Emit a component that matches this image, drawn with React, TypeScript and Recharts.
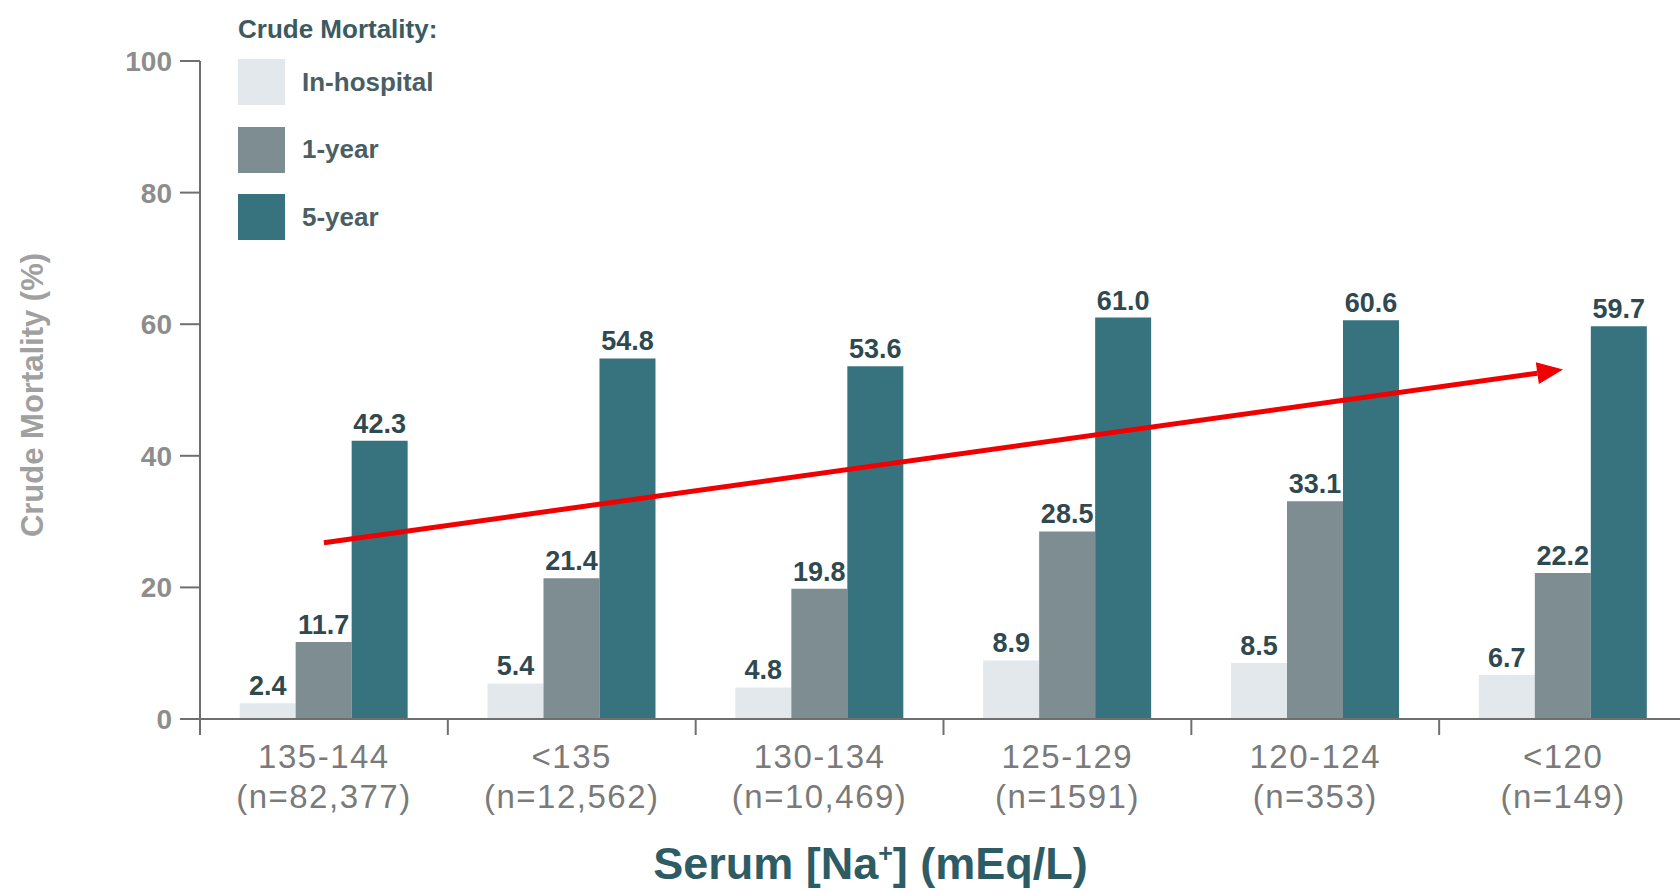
import { BarChart, Bar, XAxis, YAxis, Legend, LabelList, ReferenceLine } from "recharts";

const FONT = "'Liberation Sans', Arial, sans-serif";

// Serum sodium bands and the cohort size in each
const sodiumRanges = ["135-144", "<135", "130-134", "125-129", "120-124", "<120"];
const sampleSizes = ["(n=82,377)", "(n=12,562)", "(n=10,469)", "(n=1591)", "(n=353)", "(n=149)"];

// Crude mortality (%) per band
const inHospital = [2.4, 5.4, 4.8, 8.9, 8.5, 6.7];
const oneYear = [11.7, 21.4, 19.8, 28.5, 33.1, 22.2];
const fiveYear = [42.3, 54.8, 53.6, 61.0, 60.6, 59.7];

const seriesNames = ["In-hospital", "1-year", "5-year"];
const yTicks = [0, 20, 40, 60, 80, 100];

// Trend arrow drawn over the bars, from the first band to the last
const trendArrow = [
  { x: "135-144", y: 26.8 },
  { x: "<120", y: 53.1 },
];

const data = sodiumRanges.map((range, i) => ({
  range,
  inHospital: inHospital[i],
  oneYear: oneYear[i],
  fiveYear: fiveYear[i],
}));

const COLORS = {
  inHospital: "#e3e8ec",
  oneYear: "#7d8d92",
  fiveYear: "#37737f",
};

const barLabelStyle = { fill: "#2f4950", fontSize: 27, fontWeight: 700, fontFamily: FONT };
const formatPct = (v: any) => Number(v).toFixed(1);

// Category tick: two-line label plus a small divider at the band's left edge
const RangeTick = (props: any) => {
  const { x, y, payload, index, width, visibleTicksCount } = props;
  const half = payload.offset ? payload.offset : width / visibleTicksCount / 2;
  return (
    <g>
      <line x1={x - half} y1={y} x2={x - half} y2={y + 16} stroke="#6f6f6f" strokeWidth={2} />
      <text x={x} y={y + 49} textAnchor="middle" fill="#7a7a7a" fontSize={33} letterSpacing={1.5} fontFamily={FONT}>
        {payload.value}
      </text>
      <text x={x} y={y + 89} textAnchor="middle" fill="#7a7a7a" fontSize={33} letterSpacing={1.5} fontFamily={FONT}>
        {sampleSizes[index]}
      </text>
    </g>
  );
};

const YTitle = (props: any) => {
  const { viewBox } = props;
  const cx = viewBox.x + 32;
  const cy = viewBox.y + viewBox.height / 2 + 5;
  return (
    <text
      x={cx}
      y={cy}
      transform={`rotate(-90 ${cx} ${cy})`}
      textAnchor="middle"
      dominantBaseline="central"
      fill="#a0a0a0"
      fontSize={31}
      fontWeight={700}
      fontFamily={FONT}
    >
      Crude Mortality (%)
    </text>
  );
};

const XTitle = (props: any) => {
  const { viewBox } = props;
  const cx = viewBox.x + viewBox.width / 2 - 73;
  const by = viewBox.y + 160;
  return (
    <text x={cx} y={by} textAnchor="middle" fill="#2e5c65" fontSize={45} fontWeight={700} fontFamily={FONT}>
      Serum [Na
      <tspan dy={-17} fontSize={25}>
        +
      </tspan>
      <tspan dy={17}>] (mEq/L)</tspan>
    </text>
  );
};

const TrendArrow = (props: any) => {
  const { x1, y1, x2, y2 } = props;
  const angle = Math.atan2(y2 - y1, x2 - x1);
  const head = 26;
  const half = 11;
  const bx = x2 - head * Math.cos(angle);
  const by = y2 - head * Math.sin(angle);
  const px = -Math.sin(angle) * half;
  const py = Math.cos(angle) * half;
  return (
    <g>
      <line x1={x1} y1={y1} x2={bx} y2={by} stroke="#f00000" strokeWidth={5} />
      <polygon points={`${x2},${y2} ${bx + px},${by + py} ${bx - px},${by - py}`} fill="#f00000" />
    </g>
  );
};

const MortalityLegend = ({ payload }: any) => {
  const items = [...(payload || [])].sort(
    (a: any, b: any) => seriesNames.indexOf(a.value) - seriesNames.indexOf(b.value)
  );
  return (
    <div style={{ fontFamily: FONT }}>
      <div style={{ fontSize: 26, fontWeight: 700, color: "#3b5a61", lineHeight: "30px" }}>Crude Mortality:</div>
      {items.map((entry: any, i: number) => (
        <div
          key={entry.value}
          style={{ display: "flex", alignItems: "center", marginTop: i === 0 ? 15 : 21.5 }}
        >
          <div style={{ width: 47, height: 46, background: entry.color }} />
          <span style={{ marginLeft: 17, fontSize: 26, fontWeight: 700, color: "#4a5e63" }}>{entry.value}</span>
        </div>
      ))}
    </div>
  );
};

export default function App() {
  return (
    <div
      style={{
        position: "fixed",
        left: 0,
        top: 0,
        width: 1680,
        height: 892,
        overflow: "hidden",
        background: "#fff",
      }}
    >
      <BarChart
        width={1700}
        height={892}
        data={data}
        margin={{ top: 61, right: 13, left: 0, bottom: 0 }}
        barCategoryGap="16%"
        barGap={0}
      >
        <XAxis
          dataKey="range"
          height={173}
          tickSize={0}
          tickMargin={0}
          tickLine={false}
          axisLine={{ stroke: "#6f6f6f", strokeWidth: 2 }}
          tick={<RangeTick />}
          interval={0}
          label={{ content: XTitle }}
        />
        <YAxis
          width={200}
          domain={[0, 100]}
          ticks={yTicks}
          tickSize={20}
          tickMargin={8}
          axisLine={{ stroke: "#6f6f6f", strokeWidth: 2 }}
          tickLine={{ stroke: "#6f6f6f", strokeWidth: 2 }}
          tick={{ fill: "#8d8d8d", fontSize: 28, fontWeight: 700, fontFamily: FONT }}
          label={{ content: YTitle }}
        />
        <Legend
          layout="vertical"
          align="center"
          verticalAlign="middle"
          content={<MortalityLegend />}
          wrapperStyle={{ left: 238, top: 14 }}
        />
        <Bar dataKey="inHospital" name={seriesNames[0]} fill={COLORS.inHospital} isAnimationActive={false}>
          <LabelList dataKey="inHospital" position="top" offset={8} formatter={formatPct} style={barLabelStyle} />
        </Bar>
        <Bar dataKey="oneYear" name={seriesNames[1]} fill={COLORS.oneYear} isAnimationActive={false}>
          <LabelList dataKey="oneYear" position="top" offset={8} formatter={formatPct} style={barLabelStyle} />
        </Bar>
        <Bar dataKey="fiveYear" name={seriesNames[2]} fill={COLORS.fiveYear} isAnimationActive={false}>
          <LabelList dataKey="fiveYear" position="top" offset={8} formatter={formatPct} style={barLabelStyle} />
        </Bar>
        <ReferenceLine segment={trendArrow} shape={TrendArrow} ifOverflow="visible" />
      </BarChart>
    </div>
  );
}
